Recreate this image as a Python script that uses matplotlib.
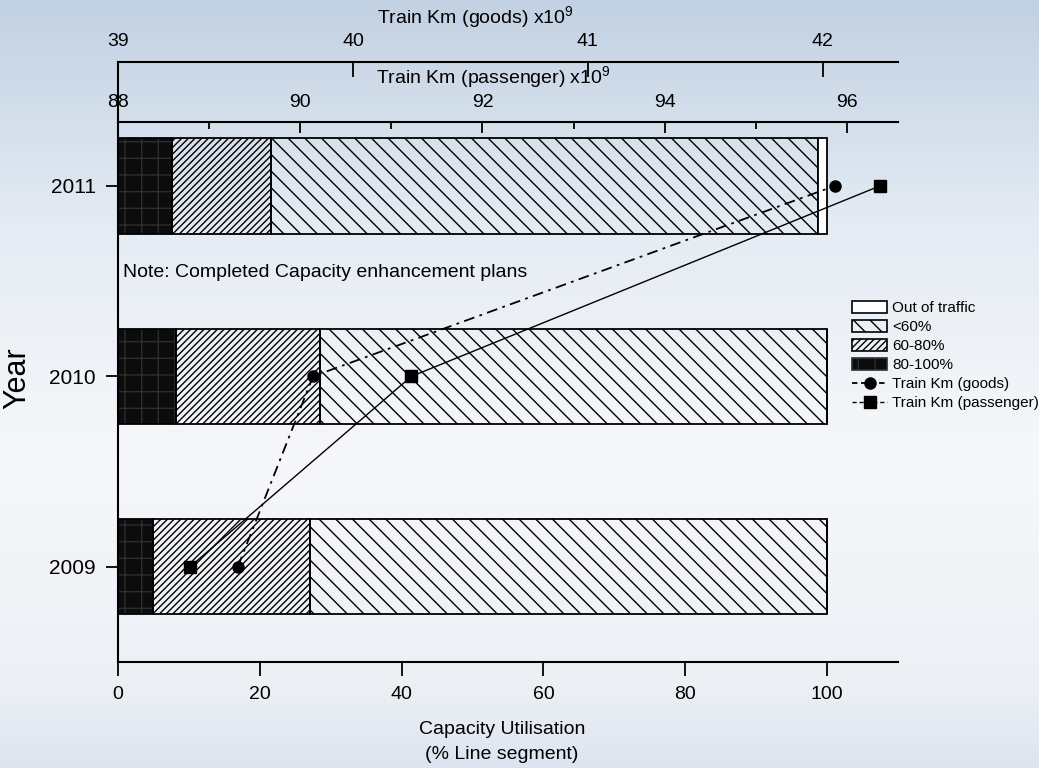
import numpy as np
import matplotlib
matplotlib.use("Agg")
from matplotlib import pyplot as plt
from matplotlib.patches import Patch
from matplotlib.lines import Line2D
from matplotlib.colors import LinearSegmentedColormap

plt.rcParams['font.family'] = ['Liberation Sans', 'DejaVu Sans']
plt.rcParams['mathtext.fontset'] = 'custom'
plt.rcParams['mathtext.rm'] = 'Liberation Sans'
plt.rcParams['hatch.linewidth'] = 1.0

# data
years = [2009, 2010, 2011]
share_80_100 = [5.0, 8.2, 7.6]
share_60_80 = [22.1, 20.3, 14.0]
share_below_60 = [72.9, 71.5, 77.1]
share_out = [0.0, 0.0, 1.3]
goods_km = [39.51, 39.83, 42.05]
passenger_km = [88.79, 91.22, 96.36]

W, H = 1039, 768
fig = plt.figure(figsize=(W / 100, H / 100), dpi=100)

# gradient background
bg = fig.add_axes([0, 0, 1, 1], zorder=-10)
cmap = LinearSegmentedColormap.from_list("bg", [
    (0.0, (0.76, 0.82, 0.89)),
    (0.3, (0.90, 0.925, 0.955)),
    (0.6, (0.965, 0.97, 0.98)),
    (0.9, (0.925, 0.94, 0.96)),
    (1.0, (0.87, 0.895, 0.94)),
])
bg.imshow(np.linspace(0, 1, 256).reshape(-1, 1), aspect='auto', cmap=cmap,
          extent=[0, 1, 0, 1])
bg.set_axis_off()

left, right, top, bottom = 118, 898, 122, 662
ax = fig.add_axes([left / W, 1 - bottom / H, (right - left) / W, (bottom - top) / H])
ax.patch.set_alpha(0)

y = np.array(years)
h = 0.5
ax.barh(y, share_80_100, height=h, color='#0c0c0c', edgecolor='#2e2e2e',
        hatch='+', linewidth=0)
ax.barh(y, share_80_100, height=h, color='none', edgecolor='black', linewidth=1.3)
left1 = np.array(share_80_100)
ax.barh(y, share_60_80, left=left1, height=h, color='none', edgecolor='black',
        hatch='/////', linewidth=1.3)
left2 = left1 + np.array(share_60_80)
ax.barh(y, share_below_60, left=left2, height=h, color='none', edgecolor='black',
        hatch='\\\\', linewidth=1.3)
left3 = left2 + np.array(share_below_60)
ax.barh(y, share_out, left=left3, height=h, color='white', edgecolor='black',
        linewidth=1.3)

ax.set_xlim(0, 110)
ax.set_ylim(2008.5, 2011.336)
ax.set_xticks([0, 20, 40, 60, 80, 100])
ax.set_yticks(years)
ax.set_yticklabels([str(v) for v in years])
for s in ['top', 'right']:
    ax.spines[s].set_visible(False)
for s in ['left', 'bottom']:
    ax.spines[s].set_linewidth(1.5)
ax.tick_params(axis='x', direction='out', length=10, width=1.3, labelsize=14, pad=7)
ax.tick_params(axis='y', direction='out', length=9, width=1.3, labelsize=15, pad=7)
ax.axvline(0, ymin=1, ymax=1 + 60 / (bottom - top), color='black', lw=1.5,
           clip_on=False)

# passenger axis
axp = ax.twiny()
axp.patch.set_alpha(0)
for s in ['left', 'right', 'bottom']:
    axp.spines[s].set_visible(False)
axp.spines['top'].set_linewidth(1.5)
axp.set_xlim(88, 96.56)
axp.set_xticks([88, 90, 92, 94, 96])
axp.set_xticks([89, 91, 93, 95], minor=True)
axp.tick_params(axis='x', which='major', direction='in', length=8, width=1.3,
                labelsize=14, pad=8)
axp.tick_params(axis='x', which='minor', direction='in', length=5, width=1.3)
axp.plot(passenger_km, years, color='black', lw=1.0, marker='s', markersize=8.5,
         clip_on=False)

# goods axis
axg = ax.twiny()
axg.patch.set_alpha(0)
for s in ['left', 'right', 'bottom']:
    axg.spines[s].set_visible(False)
axg.spines['top'].set_position(('outward', 60 * 0.72))
axg.spines['top'].set_linewidth(1.5)
axg.set_xlim(39, 42.32)
axg.set_xticks([39, 40, 41, 42])
axg.tick_params(axis='x', direction='in', length=11, width=1.3, labelsize=14, pad=9)
axg.plot(goods_km, years, color='black', lw=1.3, linestyle=(0, (6, 3, 1.5, 3)),
         marker='o', markersize=8, clip_on=False)

fig.text(475 / W, 1 - 18 / H, r'Train Km (goods) x10$^{\mathregular{9}}$',
         ha='center', va='center', fontsize=14)
fig.text(493 / W, 1 - 78 / H, r'Train Km (passenger) x10$^{\mathregular{9}}$',
         ha='center', va='center', fontsize=14)
fig.text(17 / W, 1 - 378 / H, 'Year', rotation=90, ha='center', va='center',
         fontsize=22)
fig.text(502 / W, 1 - 742 / H, 'Capacity Utilisation\n(% Line segment)',
         ha='center', va='center', fontsize=14, linespacing=1.6)
fig.text(123 / W, 1 - 272 / H, 'Note: Completed Capacity enhancement plans',
         ha='left', va='center', fontsize=14)

handles = [
    Patch(facecolor='white', edgecolor='black', linewidth=1.2),
    Patch(facecolor='none', edgecolor='black', hatch='\\\\', linewidth=1.2),
    Patch(facecolor='none', edgecolor='black', hatch='/////', linewidth=1.2),
    Patch(facecolor='#0c0c0c', edgecolor='#2e2e2e', hatch='+', linewidth=1.2),
    Line2D([], [], color='black', lw=1.3, linestyle=(0, (3, 2)), marker='o',
           markersize=8),
    Line2D([], [], color='black', lw=1.0, linestyle=(0, (3, 2)), marker='s',
           markersize=8.5),
]
labels = ['Out of traffic', '<60%', '60-80%', '80-100%', 'Train Km (goods)',
          'Train Km (passenger)']
fig.legend(handles, labels, loc='upper left', bbox_to_anchor=(852 / W, 1 - 301 / H),
           frameon=False, fontsize=11, handlelength=2.3, handleheight=0.85,
           handletextpad=0.35, labelspacing=0.3, borderpad=0, borderaxespad=0)

fig.savefig("out.png", dpi=100)
